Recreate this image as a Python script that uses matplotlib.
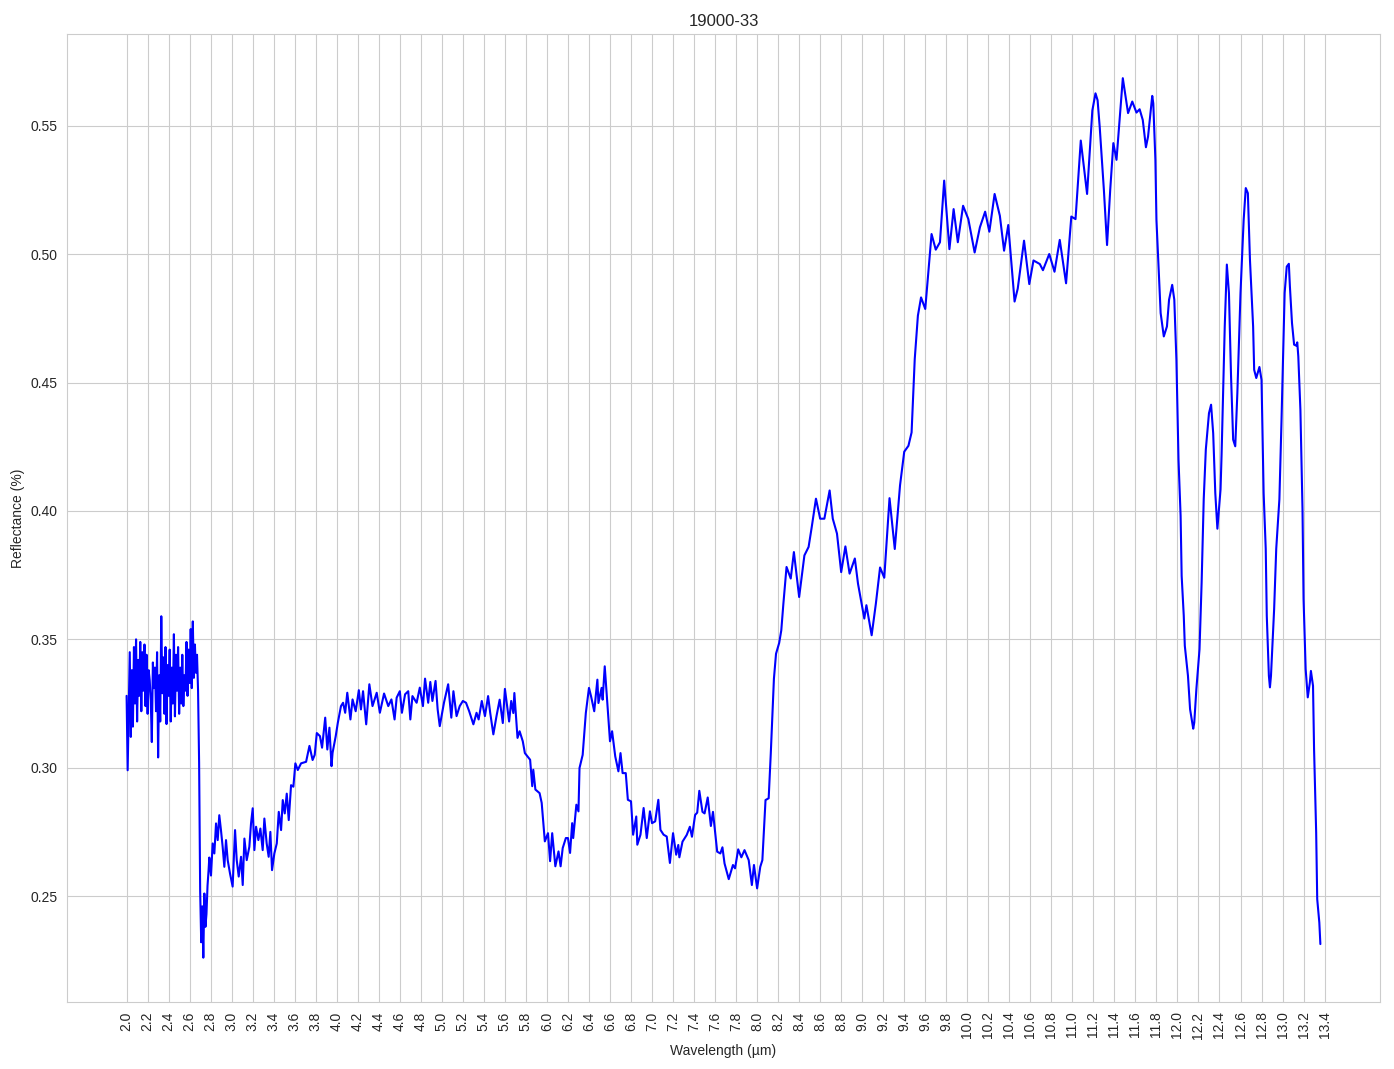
import numpy as np
import matplotlib
matplotlib.use("Agg")
import matplotlib.pyplot as plt
import seaborn as sns

# spectrum 19000-33, values
title = "19000-33"

# 2.00 - 2.68 um : noisy short-wave part, sampled every 0.01 um
wl_noisy = np.round(np.arange(2.00, 2.685, 0.01), 2)
refl_noisy = [
    0.328, 0.299, 0.322, 0.345, 0.312, 0.338, 0.316, 0.347, 0.325, 0.350,
    0.318, 0.342, 0.328, 0.349, 0.322, 0.345, 0.330, 0.348, 0.324, 0.344,
    0.321, 0.338, 0.334, 0.326, 0.310, 0.341, 0.331, 0.339, 0.322, 0.345,
    0.304, 0.336, 0.318, 0.359, 0.329, 0.343, 0.321, 0.347, 0.317, 0.340,
    0.328, 0.346, 0.318, 0.339, 0.325, 0.352, 0.320, 0.344, 0.330, 0.347,
    0.321, 0.339, 0.325, 0.344, 0.324, 0.336, 0.330, 0.349, 0.328, 0.346,
    0.333, 0.354, 0.331, 0.357, 0.335, 0.348, 0.337, 0.344, 0.330,
]

# 2.69 - 3.81 um : drop and slow recovery
wl_drop = [
    2.69, 2.70, 2.71, 2.72, 2.73, 2.74, 2.75, 2.76, 2.77, 2.78,
    2.787, 2.803, 2.819, 2.835, 2.851, 2.867, 2.882, 2.898, 2.914, 2.930,
    2.946, 2.962, 2.984, 3.009, 3.032, 3.048, 3.067, 3.089, 3.105, 3.121,
    3.143, 3.168, 3.184, 3.200, 3.216, 3.232, 3.254, 3.273, 3.295, 3.311,
    3.333, 3.352, 3.368, 3.384, 3.406, 3.429, 3.448, 3.470, 3.486, 3.505,
    3.524, 3.543, 3.565, 3.587, 3.606, 3.629, 3.660, 3.708, 3.74, 3.77,
    3.79, 3.81,
]
refl_drop = [
    0.302, 0.252, 0.232, 0.246, 0.226, 0.251, 0.238, 0.243, 0.254, 0.260,
    0.2650, 0.2580, 0.2705, 0.2666, 0.2783, 0.2718, 0.2815, 0.2757, 0.2692, 0.2614,
    0.2718, 0.2640, 0.2588, 0.2537, 0.2757, 0.2640, 0.2576, 0.2653, 0.2543, 0.2724,
    0.2640, 0.2692, 0.2783, 0.2842, 0.2679, 0.2770, 0.2718, 0.2763, 0.2679, 0.2802,
    0.2705, 0.2653, 0.2750, 0.2601, 0.2666, 0.2705, 0.2828, 0.2757, 0.2874, 0.2822,
    0.2899, 0.2796, 0.2932, 0.2926, 0.3017, 0.2991, 0.3017, 0.3023, 0.3085, 0.3030,
    0.3050, 0.3135,
]

# 3.84 - 5.52 um : plateau
wl_plateau = [
    3.84, 3.86, 3.89, 3.91, 3.93, 3.95, 3.96, 3.99, 4.01, 4.04,
    4.06, 4.08, 4.10, 4.13, 4.15, 4.18, 4.21, 4.23, 4.25, 4.28,
    4.31, 4.34, 4.38, 4.41, 4.45, 4.49, 4.52, 4.55, 4.57, 4.60,
    4.62, 4.65, 4.68, 4.70, 4.72, 4.76, 4.79, 4.82, 4.84, 4.87,
    4.89, 4.91, 4.94, 4.96, 4.98, 5.02, 5.06, 5.09, 5.11, 5.14,
    5.17, 5.20, 5.23, 5.26, 5.30, 5.33, 5.35, 5.38, 5.41, 5.44,
    5.46, 5.49, 5.52,
]
refl_plateau = [
    0.3123, 0.3078, 0.3195, 0.3071, 0.3156, 0.3006, 0.3058, 0.3123, 0.3175, 0.3240,
    0.3253, 0.3214, 0.3292, 0.3188, 0.3266, 0.3220, 0.3302, 0.3227, 0.3298, 0.3169,
    0.3325, 0.3240, 0.3292, 0.3214, 0.3289, 0.3240, 0.3266, 0.3188, 0.3273, 0.3298,
    0.3214, 0.3286, 0.3298, 0.3188, 0.3279, 0.3253, 0.3312, 0.3240, 0.3347, 0.3253,
    0.3334, 0.3260, 0.3338, 0.3227, 0.3162, 0.3253, 0.3325, 0.3195, 0.3298, 0.3201,
    0.3240, 0.3260, 0.3253, 0.3220, 0.3169, 0.3214, 0.3188, 0.3260, 0.3201, 0.3279,
    0.3214, 0.3130, 0.3201,
]

# 5.55 - 8.11 um : bands around 6.5 and 7.5
wl_bands = [
    5.55, 5.58, 5.60, 5.64, 5.66, 5.68, 5.69, 5.72, 5.74, 5.77,
    5.79, 5.84, 5.86, 5.87, 5.89, 5.93, 5.95, 5.98, 6.01, 6.03,
    6.05, 6.08, 6.11, 6.13, 6.15, 6.18, 6.20, 6.22, 6.24, 6.25,
    6.28, 6.30, 6.31, 6.34, 6.37, 6.40, 6.42, 6.45, 6.48, 6.49,
    6.52, 6.53, 6.55, 6.57, 6.60, 6.62, 6.65, 6.68, 6.70, 6.72,
    6.75, 6.77, 6.80, 6.82, 6.85, 6.86, 6.89, 6.92, 6.95, 6.98,
    7.00, 7.03, 7.06, 7.08, 7.11, 7.14, 7.17, 7.20, 7.23, 7.25,
    7.26, 7.29, 7.33, 7.36, 7.38, 7.41, 7.43, 7.45, 7.48, 7.50,
    7.53, 7.56, 7.58, 7.62, 7.65, 7.67, 7.69, 7.73, 7.77, 7.79,
    7.82, 7.85, 7.88, 7.92, 7.95, 7.97, 8.00, 8.03, 8.05, 8.08,
    8.11,
]
refl_bands = [
    0.3265, 0.3174, 0.3307, 0.3180, 0.3260, 0.3213, 0.3291, 0.3116, 0.3142, 0.3103,
    0.3057, 0.3031, 0.2928, 0.2992, 0.2915, 0.2901, 0.2863, 0.2713, 0.2745, 0.2636,
    0.2745, 0.2616, 0.2674, 0.2616, 0.2687, 0.2726, 0.2726, 0.2668, 0.2784, 0.2726,
    0.2856, 0.2830, 0.2999, 0.3050, 0.3213, 0.3311, 0.3278, 0.3220, 0.3343, 0.3252,
    0.3311, 0.3265, 0.3395, 0.3278, 0.3103, 0.3142, 0.3044, 0.2986, 0.3057, 0.2979,
    0.2979, 0.2875, 0.2869, 0.2739, 0.2810, 0.2700, 0.2739, 0.2843, 0.2726, 0.2830,
    0.2784, 0.2791, 0.2875, 0.2758, 0.2739, 0.2732, 0.2629, 0.2745, 0.2661, 0.2699,
    0.2651, 0.2712, 0.2738, 0.2770, 0.2731, 0.2816, 0.2825, 0.2910, 0.2828, 0.2822,
    0.2884, 0.2773, 0.2828, 0.2673, 0.2666, 0.2690, 0.2627, 0.2566, 0.2621, 0.2608,
    0.2682, 0.2651, 0.2679, 0.2640, 0.2543, 0.2621, 0.2530, 0.2614, 0.2640, 0.2874,
    0.2881,
]

# 8.13 - 11.64 um : rise to the reflectance maximum
wl_rise = [
    8.13, 8.16, 8.18, 8.21, 8.23, 8.25, 8.28, 8.32, 8.35, 8.40,
    8.45, 8.49, 8.52, 8.56, 8.60, 8.64, 8.69, 8.72, 8.76, 8.80,
    8.84, 8.88, 8.93, 8.96, 9.02, 9.04, 9.09, 9.13, 9.17, 9.21,
    9.26, 9.31, 9.36, 9.40, 9.44, 9.47, 9.50, 9.53, 9.56, 9.60,
    9.66, 9.70, 9.74, 9.78, 9.83, 9.87, 9.91, 9.96, 10.01, 10.07,
    10.12, 10.17, 10.21, 10.26, 10.31, 10.35, 10.39, 10.45, 10.48, 10.54,
    10.59, 10.63, 10.69, 10.72, 10.78, 10.83, 10.88, 10.94, 10.99, 11.03,
    11.08, 11.14, 11.19, 11.22, 11.24, 11.26, 11.30, 11.33, 11.36, 11.39,
    11.42, 11.48, 11.53, 11.57, 11.61, 11.64,
]
refl_rise = [
    0.3055, 0.3347, 0.3444, 0.3486, 0.3535, 0.3639, 0.3782, 0.3737, 0.3840, 0.3665,
    0.3827, 0.3860, 0.3938, 0.4048, 0.3970, 0.3970, 0.4080, 0.3970, 0.3912, 0.3762,
    0.3862, 0.3756, 0.3815, 0.3717, 0.3581, 0.3633, 0.3516, 0.3639, 0.3780, 0.3740,
    0.4050, 0.3852, 0.4100, 0.4231, 0.4254, 0.4306, 0.4592, 0.4761, 0.4832, 0.4787,
    0.5079, 0.5018, 0.5047, 0.5287, 0.5020, 0.5176, 0.5047, 0.5189, 0.5137, 0.5007,
    0.5105, 0.5166, 0.5088, 0.5235, 0.5150, 0.5014, 0.5114, 0.4816, 0.4866, 0.5053,
    0.4884, 0.4976, 0.4962, 0.4938, 0.5001, 0.4932, 0.5056, 0.4887, 0.5147, 0.5137,
    0.5443, 0.5235, 0.5560, 0.5627, 0.5600, 0.5497, 0.5250, 0.5036, 0.5250, 0.5433,
    0.5368, 0.5686, 0.5550, 0.5595, 0.5552, 0.5565,
]

# 11.67 - 13.36 um : long-wave oscillations
wl_long = [
    11.67, 11.70, 11.72, 11.76, 11.77, 11.79, 11.80, 11.82, 11.84, 11.87,
    11.90, 11.92, 11.95, 11.97, 11.99, 12.01, 12.03, 12.04, 12.06, 12.07,
    12.10, 12.12, 12.15, 12.16, 12.18, 12.21, 12.23, 12.25, 12.27, 12.30,
    12.32, 12.34, 12.36, 12.38, 12.41, 12.42, 12.45, 12.47, 12.49, 12.51,
    12.53, 12.55, 12.57, 12.60, 12.63, 12.65, 12.67, 12.69, 12.72, 12.73,
    12.75, 12.78, 12.80, 12.82, 12.84, 12.85, 12.87, 12.88, 12.89, 12.92,
    12.94, 12.97, 12.99, 13.02, 13.04, 13.06, 13.07, 13.09, 13.11, 13.13,
    13.14, 13.15, 13.17, 13.19, 13.20, 13.22, 13.24, 13.26, 13.27, 13.29,
    13.30, 13.32, 13.33, 13.35, 13.36,
]
refl_long = [
    0.5523, 0.5417, 0.5458, 0.5617, 0.5588, 0.5368, 0.5134, 0.4952, 0.4771, 0.4680,
    0.4719, 0.4823, 0.4881, 0.4823, 0.4590, 0.4200, 0.3981, 0.3747, 0.3592, 0.3475,
    0.3358, 0.3228, 0.3152, 0.3176, 0.3306, 0.3462, 0.3721, 0.4046, 0.4240, 0.4381,
    0.4414, 0.4303, 0.4070, 0.3931, 0.4084, 0.4220, 0.4719, 0.4960, 0.4849, 0.4524,
    0.4278, 0.4252, 0.4459, 0.4849, 0.5134, 0.5258, 0.5238, 0.4978, 0.4719, 0.4550,
    0.4518, 0.4561, 0.4511, 0.4070, 0.3853, 0.3592, 0.3358, 0.3313, 0.3358, 0.3618,
    0.3853, 0.4046, 0.4350, 0.4849, 0.4952, 0.4963, 0.4875, 0.4732, 0.4648, 0.4644,
    0.4657, 0.4602, 0.4394, 0.4005, 0.3657, 0.3384, 0.3274, 0.3332, 0.3377, 0.3319,
    0.3072, 0.2748, 0.2488, 0.2397, 0.2313,
]

wavelength = np.concatenate([wl_noisy, wl_drop, wl_plateau, wl_bands, wl_rise, wl_long])
reflectance = np.concatenate([refl_noisy, refl_drop, refl_plateau, refl_bands, refl_rise, refl_long])

xtick_values = np.round(np.arange(2.0, 13.41, 0.2), 1)

sns.set_style("whitegrid")
# Arial-like look, set after seaborn so it sticks
plt.rcParams["font.family"] = ["Liberation Sans", "DejaVu Sans"]

fig = plt.figure(figsize=(13.94, 10.69), dpi=100)
ax = fig.add_subplot(111)
ax.plot(wavelength, reflectance, color="blue", linewidth=1.5)

ax.set_title(title)
ax.set_xlabel("Wavelength (µm)")
ax.set_ylabel("Reflectance (%)")
ax.set_xticks(xtick_values)
ax.set_xticklabels([f"{v:.1f}" for v in xtick_values], rotation=90)

fig.subplots_adjust(left=0.048, right=0.99, top=0.968, bottom=0.063)
fig.savefig("out.png", dpi=100)
